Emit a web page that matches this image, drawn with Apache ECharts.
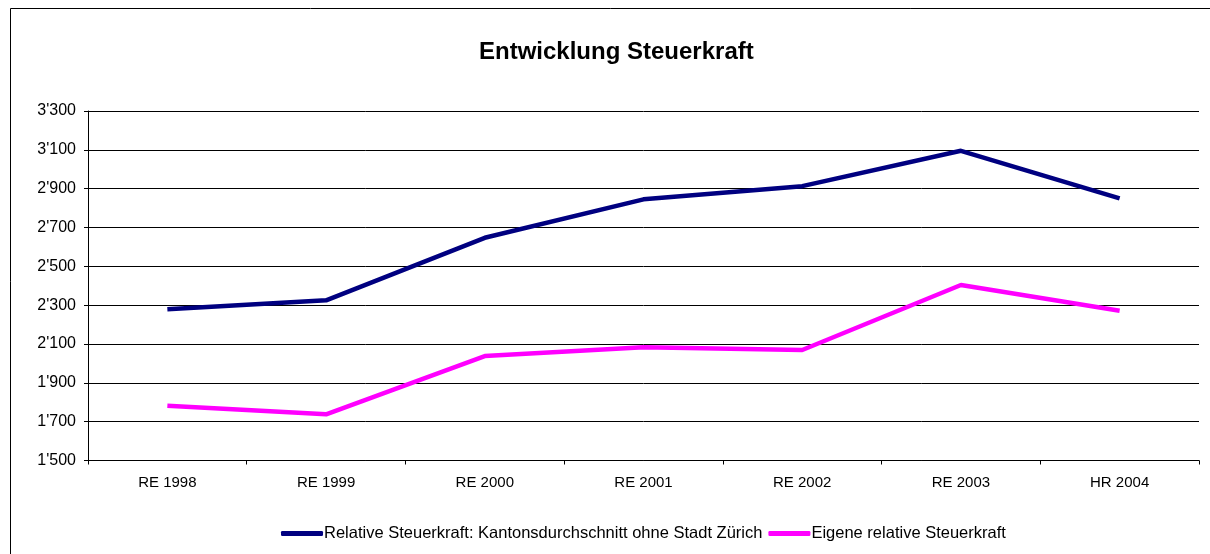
<!DOCTYPE html>
<html><head><meta charset="utf-8">
<script src="https://cdn.jsdelivr.net/npm/echarts@6/dist/echarts.min.js"></script>
<style>html,body{margin:0;padding:0;background:#fff}#c{width:1210px;height:554px}</style>
</head><body><div id="c"></div>
<script>
const categories = ['RE 1998','RE 1999','RE 2000','RE 2001','RE 2002','RE 2003','HR 2004'];
const kantonValues = [2279, 2325, 2647, 2845, 2913, 3095, 2850];
const eigeneValues = [1782, 1738, 2038, 2083, 2069, 2404, 2271];
const yTicks = [1500, 1700, 1900, 2100, 2300, 2500, 2700, 2900, 3100, 3300];
const seriesNames = ['Relative Steuerkraft: Kantonsdurchschnitt ohne Stadt Zürich', 'Eigene relative Steuerkraft'];

const chart = echarts.init(document.getElementById('c'), null, {renderer: 'canvas'});
const font = 'Liberation Sans, Arial, sans-serif';
chart.setOption({
  animation: false,
  backgroundColor: '#fff',
  graphic: [{type: 'rect', shape: {x: 10.5, y: 8.5, width: 1300, height: 700}, style: {fill: 'none', stroke: '#000', lineWidth: 1}, z: -1}],
  title: {text: 'Entwicklung Steuerkraft', left: 474, top: 35,
    textStyle: {fontFamily: font, fontSize: 24, fontWeight: 'bold', color: '#000'}},
  legend: {top: 520, left: 276, itemWidth: 42, itemHeight: 5, itemGap: 6,
    icon: 'roundRect',
    textStyle: {fontFamily: font, fontSize: 16.5, color: '#000', padding: [0,0,0,-4]},
    data: seriesNames},
  grid: {left: 88, right: 11, top: 111, bottom: 93.5},
  xAxis: {type: 'category', data: categories, boundaryGap: true,
    axisLine: {lineStyle: {color: '#000', width: 1}},
    axisTick: {show: true, length: 4, lineStyle: {color: '#000'}},
    axisLabel: {fontFamily: font, fontSize: 15, color: '#000', margin: 15}},
  yAxis: {type: 'value', min: 1500, max: 3300, interval: 200,
    axisLine: {show: true, lineStyle: {color: '#000', width: 1}},
    axisTick: {show: true, length: 4, lineStyle: {color: '#000'}},
    splitLine: {lineStyle: {color: '#000', width: 1}},
    axisLabel: {fontFamily: font, fontSize: 16, color: '#000', margin: 12,
      formatter: v => yTicks.includes(v) ? String(v).replace(/^(\d)(\d{3})$/, "$1'$2") : ''}},
  series: [
    {name: seriesNames[0], type: 'line', data: kantonValues, symbol: 'none',
      lineStyle: {color: '#000080', width: 4.5}, itemStyle: {color: '#000080'}},
    {name: seriesNames[1], type: 'line', data: eigeneValues, symbol: 'none',
      lineStyle: {color: '#FF00FF', width: 4.5}, itemStyle: {color: '#FF00FF'}}
  ]
});
</script></body></html>
